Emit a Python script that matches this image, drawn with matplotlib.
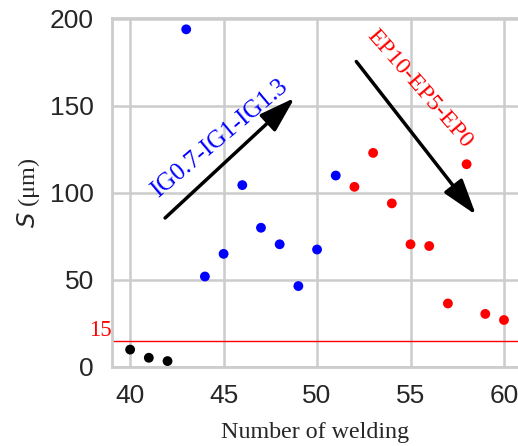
import matplotlib
matplotlib.use("Agg")
import matplotlib.pyplot as plt

# data
black_x = [40, 41, 42]
black_y = [10, 5.3, 3.4]
blue_x = [43, 44, 45, 46, 47, 48, 49, 50, 51]
blue_y = [194, 52, 65, 104.5, 80, 70.5, 46.5, 67.5, 110]
red_x = [52, 53, 54, 55, 56, 57, 58, 59, 60]
red_y = [103.5, 123, 94, 70.5, 69.5, 36.5, 116.5, 30.5, 27]
x_ticks = [40, 45, 50, 55, 60]
y_ticks = [0, 50, 100, 150, 200]
threshold = 15

fig = plt.figure(figsize=(5.18, 4.46), dpi=100)
ax = fig.add_axes([112/518, 79/446, 1 - 112/518, (367-18)/446])

ax.set_xlim(39.03, 60.75)
ax.set_ylim(0, 200.5)
ax.set_xticks(x_ticks)
ax.set_yticks(y_ticks)
ax.grid(True, color='#cccccc', lw=1.8, zorder=0)
ax.set_axisbelow(True)
for s in ['left', 'bottom', 'top']:
    ax.spines[s].set_color('#cccccc')
    ax.spines[s].set_linewidth(2)
ax.spines['right'].set_visible(False)
ax.tick_params(length=0, labelsize=19, labelcolor='#262626')
ax.tick_params(axis='y', pad=13)
ax.tick_params(axis='x', pad=12)
for lab in ax.get_xticklabels() + ax.get_yticklabels():
    lab.set_family('Liberation Sans')

ax.axhline(threshold, color='red', lw=1, zorder=1)
ax.text(39.0, threshold, str(threshold), color='red', family='Liberation Serif',
        fontsize=16.5, ha='right', va='bottom')

ax.scatter(black_x, black_y, s=50, color='black', edgecolors='none', zorder=3)
ax.scatter(blue_x, blue_y, s=50, color='blue', edgecolors='none', zorder=3)
ax.scatter(red_x, red_y, s=50, color='red', edgecolors='none', zorder=3)

ax.annotate('', xy=(48.8, 154.6), xytext=(41.87, 85.6),
            arrowprops=dict(arrowstyle='-|>,head_length=1.1,head_width=0.35', lw=2.5,
                            color='black', mutation_scale=20, shrinkA=0, shrinkB=0))
ax.annotate('', xy=(58.5, 87.4), xytext=(52.1, 175.5),
            arrowprops=dict(arrowstyle='-|>,head_length=1.1,head_width=0.35', lw=2.5,
                            color='black', mutation_scale=20, shrinkA=0, shrinkB=0))

ax.text(44.8, 131, 'IG0.7-IG1-IG1.3', color='blue', family='Liberation Serif',
        fontsize=18, rotation=40, ha='center', va='center', rotation_mode='anchor')
ax.text(55.5, 160, 'EP10-EP5-EP0', color='red', family='Liberation Serif',
        fontsize=17.5, rotation=-49, ha='center', va='center', rotation_mode='anchor')

ax.set_xlabel('Number of welding', family='Liberation Serif', fontsize=17.3,
              color='#262626', labelpad=10)
ax.set_ylabel(r'$\mathit{S}$ (μm)', family='Liberation Serif', fontsize=17.5,
              color='#262626', labelpad=6)

fig.savefig('out.png', dpi=100)
